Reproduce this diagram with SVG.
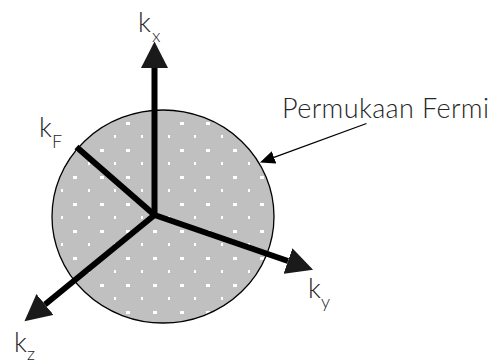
<svg xmlns="http://www.w3.org/2000/svg" width="491" height="363" viewBox="0 0 491 363">
  <style>
    .lbl { font-family: Lato, "Liberation Sans", sans-serif; font-weight: 300; font-size: 27px; fill: #262626; }
    .sub { font-size: 18px; }
    .axis { stroke: #000; stroke-width: 6; fill: none; }
    .dw { fill: #fff; }
  </style>
  <defs>
    <clipPath id="sphereClip">
      <ellipse cx="163" cy="216.5" rx="111" ry="106.5"/>
    </clipPath>
    <marker id="bigArrow" markerUnits="userSpaceOnUse" markerWidth="27" markerHeight="27" viewBox="0 0 27 27" refX="0" refY="13.5" orient="auto">
      <path d="M0,0 L26.5,13.5 L0,27 z" fill="#1a1a1a"/>
    </marker>
    <marker id="smallArrow" markerUnits="userSpaceOnUse" markerWidth="15" markerHeight="13" viewBox="0 0 15 13" refX="0" refY="6.5" orient="auto">
      <path d="M0,0 L15,6.5 L0,13 z" fill="#000"/>
    </marker>
    <rect id="w" width="4" height="3" class="dw"/>
    <rect id="n" width="2" height="3" class="dw"/>
    <g id="wideRow">
      <use href="#w" x="46"/><use href="#w" x="73"/><use href="#w" x="100"/><use href="#w" x="126"/><use href="#w" x="153"/><use href="#w" x="180"/><use href="#w" x="206"/><use href="#w" x="233"/><use href="#w" x="260"/><use href="#w" x="286"/>
    </g>
    <g id="narrowRow">
      <use href="#n" x="34"/><use href="#n" x="61"/><use href="#n" x="88"/><use href="#n" x="114"/><use href="#n" x="141"/><use href="#n" x="168"/><use href="#n" x="194"/><use href="#n" x="221"/><use href="#n" x="248"/><use href="#n" x="274"/>
    </g>
  </defs>
  <rect width="491" height="363" fill="#fff"/>

  <g id="fermi-sphere">
    <ellipse cx="163" cy="216.5" rx="111" ry="106.5" fill="#c0c0c0"/>
    <g clip-path="url(#sphereClip)" shape-rendering="crispEdges">
      <use href="#wideRow" y="122"/>
      <use href="#narrowRow" y="135"/>
      <use href="#wideRow" y="149"/>
      <use href="#narrowRow" y="162"/>
      <use href="#wideRow" y="176"/>
      <use href="#narrowRow" y="189"/>
      <use href="#wideRow" y="203"/>
      <use href="#narrowRow" y="216"/>
      <use href="#wideRow" y="230"/>
      <use href="#narrowRow" y="243"/>
      <use href="#wideRow" y="257"/>
      <use href="#narrowRow" y="270"/>
      <use href="#wideRow" y="284"/>
      <use href="#narrowRow" y="297"/>
      <use href="#wideRow" y="311"/>
    </g>
    <ellipse cx="163" cy="216.5" rx="111" ry="106.5" fill="none" stroke="#000" stroke-width="1.3"/>
  </g>

  <g id="connectors">
    <path class="axis" d="M154.5,215 L154.5,68" marker-end="url(#bigArrow)"/>
    <path class="axis" d="M154.5,215 L288,261" marker-end="url(#bigArrow)"/>
    <path class="axis" d="M154.5,215 L45,304.5" marker-end="url(#bigArrow)"/>
    <path class="axis" d="M154.5,215 L76.5,147"/>
    <circle cx="154.5" cy="215" r="3" fill="#000"/>
    <path d="M366.5,123.5 L274,157.3" stroke="#000" stroke-width="1.3" fill="none" marker-end="url(#smallArrow)"/>
  </g>

  <g id="label-kx">
    <text class="lbl" x="138" y="32">k<tspan class="sub" x="152" y="42">x</tspan></text>
  </g>
  <g id="label-kF">
    <text class="lbl" x="39" y="137">k<tspan class="sub" x="52" y="148">F</tspan></text>
  </g>
  <g id="label-ky">
    <text class="lbl" x="308" y="298">k<tspan class="sub" x="321" y="308">y</tspan></text>
  </g>
  <g id="label-kz">
    <text class="lbl" x="14" y="351.5">k<tspan class="sub" x="27" y="360">z</tspan></text>
  </g>
  <g id="label-fermi">
    <text class="lbl" x="282" y="118" textLength="207" lengthAdjust="spacing">Permukaan Fermi</text>
  </g>
</svg>
